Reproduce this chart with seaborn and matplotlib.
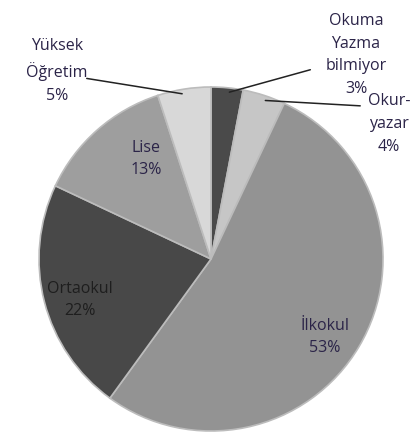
import numpy as np
import matplotlib
matplotlib.use("Agg")
import matplotlib.pyplot as plt
import seaborn as sns

labels = ["Okuma\nYazma\nbilmiyor", "Okur-\nyazar", "İlkokul", "Ortaokul", "Lise", "Yüksek\nÖğretim"]
values = [3, 4, 53, 22, 13, 5]
colors = ["#4a4a4a", "#c6c6c6", "#939393", "#484848", "#9e9e9e", "#d8d8d8"]
text_colors = ["#2b2448", "#2b2448", "#2b2448", "#1e1e1e", "#2b2448", "#2b2448"]

sns.set_theme(style="white")
plt.rcParams["font.family"] = ["Open Sans", "DejaVu Sans"]

W, H = 416, 435
fig = plt.figure(figsize=(W / 100, H / 100), dpi=100)
fig.patch.set_facecolor("white")

# pie centre ~ (211, 260) px, radius ~172 px
cx, cy, r = 211, 260, 172
ax = fig.add_axes([(cx - r) / W, (H - cy - r) / H, 2 * r / W, 2 * r / H])
wedges, _ = ax.pie(values, colors=colors, startangle=90, counterclock=False,
                   radius=1.0, wedgeprops=dict(edgecolor="#bcbcbc", linewidth=1.2))
ax.set_xlim(-1, 1)
ax.set_ylim(-1, 1)
ax.set_aspect("equal")
ax.axis("off")

def px(x, y):
    # pixel (from top-left) -> axes data coords
    return ((x - cx) / r, (cy - y) / r)

# label positions in pixels (centre of text block), and leader line ends
label_pos = [(356, 55), (389, 124), (325, 337), (80, 300), (146, 159), (57, 71)]
leader_end = [(313, 70), (363, 107), None, None, None, (84, 79)]

for i, (w, lab, v) in enumerate(zip(wedges, labels, values)):
    txt = f"{lab}\n{v}%"
    tx, ty = px(*label_pos[i])
    ax.text(tx, ty, txt, ha="center", va="center", fontsize=11.5,
            color=text_colors[i], linespacing=1.55)
    if leader_end[i] is not None:
        mid = np.deg2rad((w.theta1 + w.theta2) / 2)
        sx, sy = 0.97 * np.cos(mid), 0.97 * np.sin(mid)
        ex, ey = px(*leader_end[i])
        ax.annotate("", xy=(sx, sy), xytext=(ex, ey),
                    arrowprops=dict(arrowstyle="-", color="#222222", lw=1.1),
                    annotation_clip=False)

fig.savefig("out.png", dpi=100)
